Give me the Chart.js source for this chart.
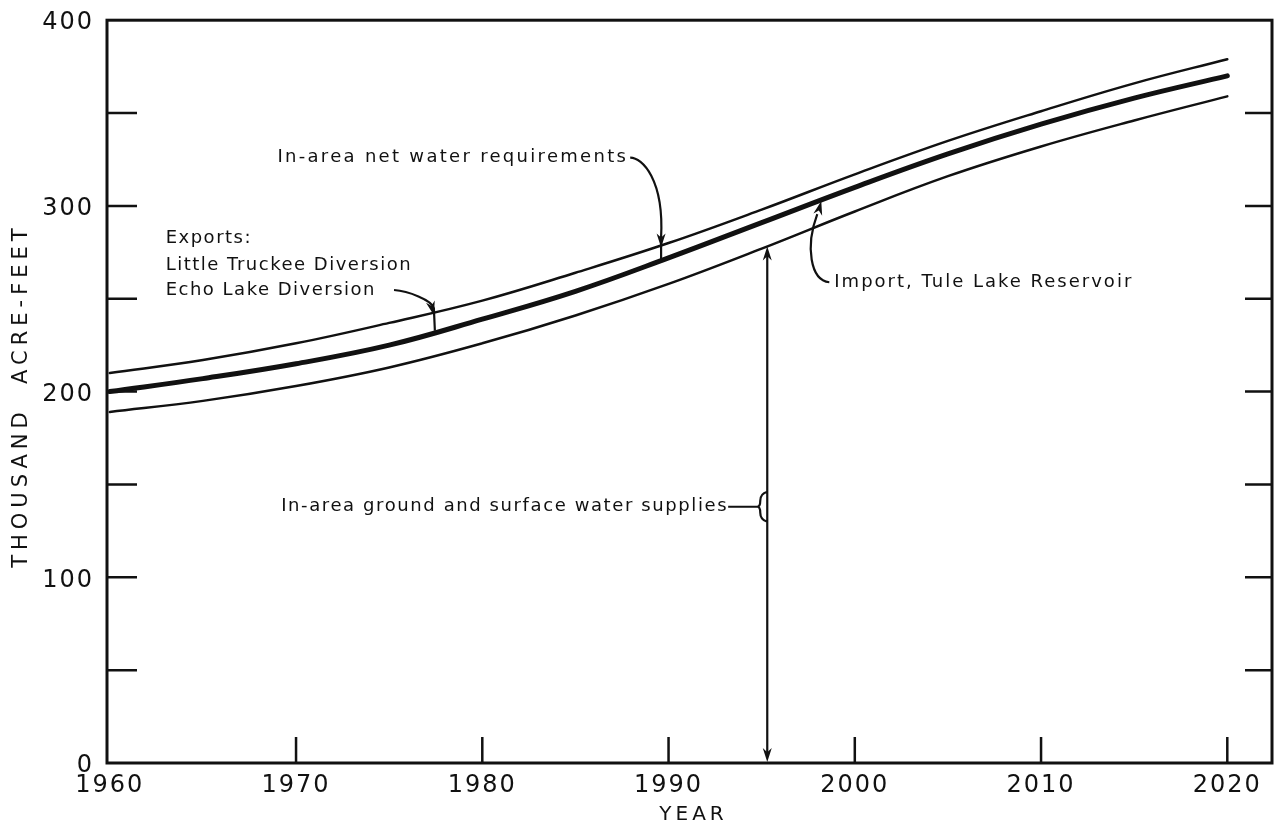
<!DOCTYPE html>
<html>
<head>
<meta charset="utf-8">
<title>Water Supply and Requirements</title>
<script src="https://cdn.jsdelivr.net/npm/chart.js@4.4.1/dist/chart.umd.min.js"></script>
<style>
  body { margin: 0; background: #fff; }
  #wrap { width: 1282px; height: 830px; }
</style>
</head>
<body>
<div id="wrap"><canvas id="waterChart" width="1282" height="830"></canvas></div>
<script>
// 年份
const years = [1960, 1965, 1970, 1975, 1980, 1985, 1990, 1995, 2000, 2005, 2010, 2015, 2020];
// 上线：需水量 + 外调水（千英亩英尺）
const totalDemand = [210, 217, 226, 237, 249, 264, 280, 298, 317, 335, 351, 366, 379];
// 中线（粗）：区内净需水量
const netRequirement = [200, 207, 215, 225, 239, 254, 272, 291, 310, 328, 344, 358, 370];
// 下线：区内地下水与地表水供水
const localSupply = [189, 195, 203, 213, 226, 241, 258, 277, 297, 316, 332, 346, 359];

const yTickLabels = [0, 100, 200, 300, 400];
const xTickLabels = [1960, 1970, 1980, 1990, 2000, 2010, 2020];

const ink = '#111';
const font = '"DejaVu Sans", sans-serif';

function toPoints(series) {
    return years.map((yr, i) => ({ x: yr, y: series[i] }));
}

// 取某一年份附近的值，只用来放箭头
function valueAt(series, year) {
    for (let i = 1; i < years.length; i++) {
        if (year <= years[i]) {
            const t = (year - years[i - 1]) / (years[i] - years[i - 1]);
            return series[i - 1] + t * (series[i] - series[i - 1]);
        }
    }
    return series[series.length - 1];
}

function arrowHead(ctx, x, y, angle) {
    const len = 14, half = 4.5;
    ctx.save();
    ctx.translate(x, y);
    ctx.rotate(angle);
    ctx.beginPath();
    ctx.moveTo(0, 0);
    ctx.lineTo(-len, -half);
    ctx.lineTo(-len * 0.7, 0);
    ctx.lineTo(-len, half);
    ctx.closePath();
    ctx.fill();
    ctx.restore();
}

// 刻度文字的字距
const spacing = {
    id: 'spacing',
    beforeDraw(chart) {
        chart.ctx.letterSpacing = '2px';
    }
};

// 边框、内向刻度、坐标轴标题和说明文字
const annotations = {
    id: 'annotations',
    afterDraw(chart) {
        const { ctx, chartArea: a, scales: { x, y } } = chart;
        const px = v => x.getPixelForValue(v);
        const py = v => y.getPixelForValue(v);

        ctx.save();
        ctx.strokeStyle = ink;
        ctx.fillStyle = ink;
        ctx.lineCap = 'butt';

        // 边框
        ctx.lineWidth = 3;
        ctx.strokeRect(a.left, a.top, a.right - a.left, a.bottom - a.top);

        // 刻度
        ctx.lineWidth = 2.5;
        ctx.beginPath();
        for (let v = 50; v < 400; v += 50) {
            ctx.moveTo(a.left, py(v));
            ctx.lineTo(a.left + 30, py(v));
            ctx.moveTo(a.right, py(v));
            ctx.lineTo(a.right - 27, py(v));
        }
        xTickLabels.slice(1).forEach(yr => {
            ctx.moveTo(px(yr), a.bottom);
            ctx.lineTo(px(yr), a.bottom - 26);
        });
        ctx.stroke();

        // 坐标轴标题
        ctx.textAlign = 'center';
        ctx.textBaseline = 'middle';
        ctx.font = '20px ' + font;
        ctx.letterSpacing = '4px';
        ctx.fillText('YEAR', (a.left + a.right) / 2 + 4, 815);

        ctx.save();
        ctx.translate(22, (a.top + a.bottom) / 2 + 4);
        ctx.rotate(-Math.PI / 2);
        ctx.font = '21px ' + font;
        ctx.letterSpacing = '5px';
        ctx.fillText('THOUSAND  ACRE-FEET', 0, 0);
        ctx.restore();

        // 说明文字
        ctx.font = '18px ' + font;
        ctx.letterSpacing = '2.3px';
        ctx.textAlign = 'left';
        ctx.lineWidth = 2.2;

        // 区内净需水量
        let tx = px(1969.0), ty = py(326);
        let text = 'In-area net water requirements';
        ctx.fillText(text, tx, ty);
        let sx = tx + ctx.measureText(text).width + 2;
        let yr = 1989.6;
        let tipX = px(yr), pu = py(valueAt(totalDemand, yr)), pm = py(valueAt(netRequirement, yr));
        ctx.beginPath();
        ctx.moveTo(sx, ty);
        ctx.bezierCurveTo(sx + 12, ty, tipX + 3, ty + 22, tipX, pu - 8);
        ctx.lineTo(tipX, pm);
        ctx.stroke();
        arrowHead(ctx, tipX, pu + 2, Math.PI / 2);

        // 外调水
        ctx.letterSpacing = '1.5px';
        tx = px(1963.0);
        ctx.fillText('Exports:', tx, py(282.6));
        ctx.fillText('Little Truckee Diversion', tx, py(268.1));
        text = 'Echo Lake Diversion';
        ty = py(254.7);
        ctx.fillText(text, tx, ty);
        sx = tx + ctx.measureText(text).width + 18;
        yr = 1977.4;
        tipX = px(yr); pu = py(valueAt(totalDemand, yr)); pm = py(valueAt(netRequirement, yr));
        ctx.beginPath();
        ctx.moveTo(sx, ty);
        ctx.bezierCurveTo(sx + 14, ty + 1, tipX - 2, ty + 10, tipX, pu - 4);
        ctx.lineTo(tipX + 1, pm - 2);
        ctx.stroke();
        arrowHead(ctx, tipX, pu + 3, Math.PI * 0.42);

        // 引水
        ctx.letterSpacing = '2px';
        tx = px(1998.9);
        ty = py(258.9);
        ctx.fillText('Import, Tule Lake Reservoir', tx, ty);
        yr = 1998.2;
        tipX = px(yr); pm = py(valueAt(netRequirement, yr));
        ctx.beginPath();
        ctx.moveTo(tx - 5, ty);
        ctx.bezierCurveTo(tx - 24, ty - 2, tipX - 16, ty - 36, tipX - 4, pm + 14);
        ctx.stroke();
        arrowHead(ctx, tipX, pm + 1, -Math.PI * 0.42);

        // 区内供水
        ctx.letterSpacing = '1.6px';
        tx = px(1969.2);
        ty = py(138.0);
        text = 'In-area ground and surface water supplies';
        ctx.fillText(text, tx, ty);
        sx = tx + ctx.measureText(text).width;
        yr = 1995.3;
        const vx = px(yr);
        const top = py(valueAt(localSupply, yr));
        ctx.beginPath();
        ctx.moveTo(sx, ty);
        ctx.lineTo(vx - 10, ty);
        ctx.moveTo(vx, ty - 15);
        ctx.quadraticCurveTo(vx - 7, ty - 13, vx - 7, ty - 6);
        ctx.quadraticCurveTo(vx - 7, ty, vx - 10, ty);
        ctx.quadraticCurveTo(vx - 7, ty, vx - 7, ty + 6);
        ctx.quadraticCurveTo(vx - 7, ty + 13, vx, ty + 15);
        ctx.moveTo(vx, top + 8);
        ctx.lineTo(vx, a.bottom - 8);
        ctx.stroke();
        arrowHead(ctx, vx, top, -Math.PI / 2);
        arrowHead(ctx, vx, a.bottom - 1, Math.PI / 2);

        ctx.restore();
    }
};

const xTickFont = { family: font, size: 24 };
// y 轴行高调小，避免刻度文字把绘图区顶部往下推
const yTickFont = { family: font, size: 24, lineHeight: 0.6 };

new Chart(document.getElementById('waterChart'), {
    type: 'line',
    data: {
        datasets: [
            { data: toPoints(totalDemand), borderWidth: 2.5 },
            { data: toPoints(netRequirement), borderWidth: 5 },
            { data: toPoints(localSupply), borderWidth: 2.5 }
        ]
    },
    options: {
        responsive: false,
        animation: false,
        devicePixelRatio: 1,
        layout: { padding: { top: 19, right: 10, left: 0, bottom: 0 } },
        plugins: {
            legend: { display: false },
            tooltip: { enabled: false }
        },
        elements: {
            point: { radius: 0 },
            line: {
                borderColor: ink,
                tension: 0.4,
                borderCapStyle: 'round'
            }
        },
        scales: {
            x: {
                type: 'linear',
                min: 1959.85,
                max: 2022.4,
                afterFit: s => { s.height = 67; },
                grid: { display: false, drawTicks: false },
                border: { display: false },
                ticks: {
                    stepSize: 10,
                    includeBounds: false,
                    autoSkip: false,
                    maxRotation: 0,
                    padding: 8,
                    color: ink,
                    font: xTickFont,
                    callback: v => xTickLabels.includes(v) ? String(v) : ''
                }
            },
            y: {
                min: 0,
                max: 400,
                afterFit: s => { s.width = 107; },
                grid: { display: false, drawTicks: false },
                border: { display: false },
                ticks: {
                    stepSize: 100,
                    autoSkip: false,
                    padding: 13,
                    labelOffset: 3,
                    color: ink,
                    font: yTickFont,
                    callback: v => yTickLabels.includes(v) ? String(v) : ''
                }
            }
        }
    },
    plugins: [spacing, annotations]
});
</script>
</body>
</html>
